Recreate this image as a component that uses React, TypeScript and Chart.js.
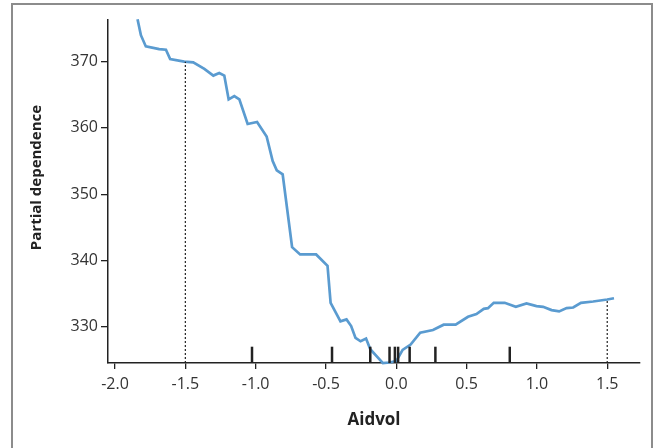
import React, { useEffect, useRef } from "react";
import { Chart, registerables } from "chart.js";

Chart.register(...registerables);

// Partial dependence curve (Aidvol -> partial dependence)
const aidvolX = [
  -1.84, -1.816, -1.781, -1.686, -1.638, -1.608, -1.508, -1.444, -1.365, -1.301,
  -1.259, -1.223, -1.192, -1.152, -1.116, -1.057, -0.99, -0.922, -0.879, -0.85,
  -0.808, -0.741, -0.684, -0.57, -0.489, -0.467, -0.397, -0.354, -0.321, -0.29,
  -0.254, -0.215, -0.185, -0.095, -0.048, 0.0, 0.045, 0.102, 0.17, 0.261,
  0.337, 0.422, 0.51, 0.57, 0.622, 0.652, 0.693, 0.771, 0.85, 0.926,
  0.997, 1.044, 1.104, 1.158, 1.211, 1.258, 1.313, 1.4, 1.5, 1.548,
];
const partialDependence = [
  376.4, 374.0, 372.3, 371.9, 371.8, 370.4, 370.0, 369.9, 368.9, 367.9,
  368.3, 367.9, 364.3, 364.8, 364.3, 360.6, 360.9, 358.7, 355.0, 353.6,
  353.0, 342.0, 340.9, 340.9, 339.2, 333.6, 330.8, 331.1, 330.1, 328.3,
  327.8, 328.2, 326.6, 324.5, 324.6, 324.8, 326.5, 327.3, 329.1, 329.5,
  330.3, 330.3, 331.5, 331.9, 332.7, 332.8, 333.6, 333.6, 333.0, 333.5,
  333.1, 333.0, 332.5, 332.3, 332.8, 332.9, 333.6, 333.8, 334.1, 334.3,
];

// Decile rug marks along x
const rugDeciles = [-1.026, -0.457, -0.185, -0.048, -0.01, 0.013, 0.095, 0.278, 0.807];
const rugTop = 326.98;

// Dotted reference lines (5th / 95th percentiles) and the curve value there
const refX = [-1.5, 1.5];
const refY = [370.0, 334.1];

const xTicks = [-2.0, -1.5, -1.0, -0.5, 0.0, 0.5, 1.0, 1.5];
const yTicks = [330, 340, 350, 360, 370];
const xMin = -2.05;
const xMax = 1.733;
const yMin = 324.52;
const yMax = 376.29;

const xTitle = "Aidvol";
const yTitle = "Partial dependence";

const yTitlePlugin = {
  id: "yTitle",
  afterDraw(chart: any) {
    const { ctx, chartArea } = chart;
    ctx.save();
    ctx.translate(37, (chartArea.top + chartArea.bottom) / 2 - 14);
    ctx.rotate(-Math.PI / 2);
    ctx.font = "bold 15px 'Open Sans'";
    ctx.fillStyle = "#222222";
    ctx.textAlign = "center";
    ctx.textBaseline = "middle";
    ctx.fillText(yTitle, 0, 0);
    ctx.restore();
  },
};

export default function App() {
  const ref = useRef<HTMLCanvasElement | null>(null);

  useEffect(() => {
    if (!ref.current) return;
    const curve = aidvolX.map((x, i) => ({ x, y: partialDependence[i] }));
    const rugSets = rugDeciles.map((x) => ({
      data: [
        { x, y: yMin },
        { x, y: rugTop },
      ],
      borderColor: "#222222",
      borderWidth: 2.5,
      pointRadius: 0,
      showLine: true,
      borderCapStyle: "butt" as const,
    }));
    const refSets = refX.map((x, i) => ({
      data: [
        { x, y: yMin },
        { x, y: refY[i] },
      ],
      borderColor: "#222222",
      borderWidth: 1.2,
      borderDash: [2, 2],
      pointRadius: 0,
      showLine: true,
    }));
    const chart = new Chart(ref.current, {
      type: "scatter",
      data: {
        datasets: [
          ...refSets,
          ...rugSets,
          {
            data: curve,
            borderColor: "#5a9bd0",
            borderWidth: 2.7,
            pointRadius: 0,
            showLine: true,
            tension: 0,
            clip: 4,
          } as any,
        ],
      },
      plugins: [yTitlePlugin],
      options: {
        animation: false,
        responsive: false,
        maintainAspectRatio: false,
        layout: { padding: { left: 24, top: 20, right: 22, bottom: 14 } },
        plugins: { legend: { display: false }, tooltip: { enabled: false } },
        scales: {
          x: {
            type: "linear",
            min: xMin,
            max: xMax,
            afterFit: (s: any) => {
              s.height = 71;
            },
            afterBuildTicks: (s: any) => {
              s.ticks = xTicks.map((v) => ({ value: v }));
            },
            grid: {
              drawOnChartArea: false,
              drawTicks: true,
              tickLength: 6,
              color: "#222222",
              lineWidth: 1.3,
            },
            border: { display: true, color: "#222222", width: 1.5 },
            ticks: {
              padding: 6,
              color: "#333333",
              font: { family: "'Open Sans'", size: 16 },
              callback: (v: any) => Number(v).toFixed(1),
              maxRotation: 0,
            },
            title: {
              display: true,
              text: xTitle,
              color: "#222222",
              font: { family: "'Open Sans'", size: 17, weight: "bold" },
            },
          },
          y: {
            type: "linear",
            min: yMin,
            max: yMax,
            afterFit: (s: any) => {
              s.width = 84;
            },
            afterBuildTicks: (s: any) => {
              s.ticks = yTicks.map((v) => ({ value: v }));
            },
            grid: {
              drawOnChartArea: false,
              drawTicks: true,
              tickLength: 7,
              color: "#222222",
              lineWidth: 1.3,
            },
            border: { display: true, color: "#222222", width: 1.5 },
            ticks: {
              padding: 3,
              color: "#333333",
              font: { family: "'Open Sans'", size: 16 },
              callback: (v: any) => String(Math.round(Number(v))),
            },
            title: { display: false },
          },
        },
      },
    });
    return () => chart.destroy();
  }, []);

  return (
    <div
      style={{
        position: "absolute",
        left: 0,
        top: 0,
        width: 662,
        height: 448,
        overflow: "hidden",
        background: "#ffffff",
      }}
    >
      <div
        style={{
          position: "absolute",
          left: 11,
          top: 3,
          width: 642,
          height: 470,
          border: "2px solid #8c8c8c",
          boxSizing: "border-box",
        }}
      />
      <canvas
        ref={ref}
        width={662}
        height={448}
        style={{ position: "absolute", left: 0, top: 0, width: 662, height: 448 }}
      />
    </div>
  );
}
